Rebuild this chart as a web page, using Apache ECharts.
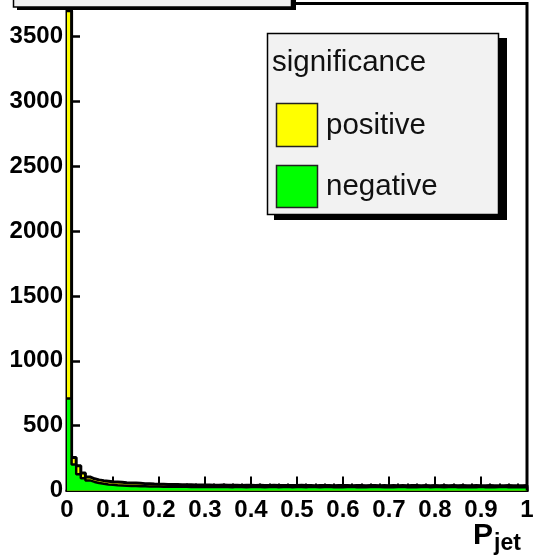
<!DOCTYPE html>
<html>
<head>
<meta charset="utf-8">
<script src="https://cdn.jsdelivr.net/npm/echarts@6/dist/echarts.min.js"></script>
<style>
html,body{margin:0;padding:0;background:#fff;}
#c{width:540px;height:557px;}
</style>
</head>
<body>
<div id="c"></div>
<script>
// Histogram: P_jet, 100 bins from 0 to 1
var binWidth = 0.01;
var xTickLabels = ['0','0.1','0.2','0.3','0.4','0.5','0.6','0.7','0.8','0.9','1'];
var yTickLabels = ['0','500','1000','1500','2000','2500','3000','3500'];
var legendTitle = 'significance';
var seriesNames = ['positive', 'negative'];

var positiveCounts = [
  3700, 255, 190, 135, 105, 90, 82, 76, 72, 68,
  66, 63, 60, 58, 57, 55, 53, 52, 50, 49,
  48, 47, 46, 46, 45, 44, 44, 43, 43, 42,
  42, 41, 41, 42, 40, 41, 40, 39, 40, 40,
  39, 40, 38, 39, 40, 38, 39, 38, 39, 38,
  40, 38, 39, 37, 38, 39, 38, 37, 38, 39,
  38, 37, 38, 38, 37, 39, 38, 37, 38, 37,
  38, 37, 38, 37, 39, 38, 37, 38, 37, 38,
  37, 38, 36, 38, 37, 38, 37, 36, 38, 37,
  36, 38, 37, 36, 37, 38, 36, 37, 36, 38
];
var negativeCounts = [
  710, 200, 125, 95, 78, 66, 58, 52, 47, 44,
  41, 39, 37, 35, 34, 33, 32, 31, 30, 30,
  29, 29, 28, 28, 29, 28, 27, 28, 27, 28,
  27, 28, 27, 28, 27, 26, 28, 27, 26, 27,
  28, 27, 26, 27, 28, 26, 27, 28, 26, 27,
  27, 26, 28, 27, 26, 27, 28, 26, 27, 26,
  27, 28, 26, 27, 26, 27, 28, 27, 26, 27,
  26, 27, 28, 26, 27, 26, 27, 28, 26, 27,
  27, 26, 27, 28, 26, 27, 26, 27, 26, 28,
  26, 27, 26, 27, 28, 26, 27, 26, 27, 26
];

function stepData(counts) {
  var d = [];
  for (var i = 0; i < counts.length; i++) d.push([i * binWidth, counts[i]]);
  d.push([counts.length * binWidth, 0]);
  return d;
}

var chart = echarts.init(document.getElementById('c'), null, {renderer: 'canvas'});
var gridL = 67, gridR = 13, gridT = 3.5, gridB = 66.5;
var FONT = 'Liberation Sans, Arial, sans-serif';
var axisFont = {fontFamily: FONT, fontWeight: 'bold', fontSize: 24, color: '#000'};

var option = {
  animation: false,
  backgroundColor: '#fff',
  grid: {left: gridL, right: gridR, top: gridT, bottom: gridB, show: true, borderColor: '#000', borderWidth: 3, backgroundColor: 'transparent'},
  xAxis: {
    type: 'value', min: 0, max: 1, interval: 0.1,
    axisLine: {show: true, onZero: false, lineStyle: {color: '#000', width: 3}},
    axisTick: {show: true, inside: true, length: 14, lineStyle: {color: '#000', width: 2}},
    minorTick: {show: true, splitNumber: 5, length: 7, lineStyle: {color: '#000', width: 2}},
    splitLine: {show: false},
    axisLabel: Object.assign({margin: 8, formatter: function (v) {
      var idx = Math.round(v * 10);
      return xTickLabels[idx] !== undefined ? xTickLabels[idx] : '';
    }}, axisFont)
  },
  yAxis: {
    type: 'value', min: 0, max: 3755, interval: 500,
    axisLine: {show: true, onZero: false, lineStyle: {color: '#000', width: 3}},
    axisTick: {show: true, inside: true, length: 13, lineStyle: {color: '#000', width: 2.5}},
    minorTick: {show: true, splitNumber: 5, length: 6, lineStyle: {color: '#000', width: 2}},
    splitLine: {show: false},
    axisLabel: Object.assign({margin: 4, showMaxLabel: false, formatter: function (v) {
      if (v % 500 !== 0) return '';
      var idx = v / 500;
      return yTickLabels[idx] !== undefined ? yTickLabels[idx] : '';
    }}, axisFont)
  },
  series: [
    {
      name: seriesNames[0], type: 'line', step: 'end', symbol: 'none',
      data: stepData(positiveCounts),
      lineStyle: {color: '#000', width: 3},
      areaStyle: {color: '#ffff00', opacity: 1},
      z: 2
    },
    {
      name: seriesNames[1], type: 'line', step: 'end', symbol: 'none',
      data: stepData(negativeCounts),
      lineStyle: {color: '#000', width: 2.5},
      areaStyle: {color: '#00ff00', opacity: 1},
      z: 3
    }
  ],
  graphic: [
    // cut-off title box at the top
    {type: 'rect', shape: {x: 17, y: -10, width: 279, height: 20}, style: {fill: '#000'}, z: 10},
    {type: 'rect', shape: {x: 13.5, y: -10, width: 278, height: 17}, style: {fill: '#f0f0f0', stroke: '#000', lineWidth: 1.5}, z: 11},
    // legend box with shadow
    {type: 'rect', shape: {x: 274, y: 38, width: 233, height: 182}, style: {fill: '#000'}, z: 20},
    {type: 'rect', shape: {x: 267.5, y: 33.5, width: 231, height: 181}, style: {fill: '#f2f2f2', stroke: '#000', lineWidth: 1.5}, z: 21},
    {type: 'text', style: {x: 272, y: 63, text: legendTitle, fontFamily: FONT, fontSize: 29.5, fill: '#111', verticalAlign: 'middle'}, z: 22},
    {type: 'rect', shape: {x: 276.5, y: 103.5, width: 41, height: 43}, style: {fill: '#ffff00', stroke: '#222', lineWidth: 1.5}, z: 22},
    {type: 'text', style: {x: 326, y: 126, text: seriesNames[0], fontFamily: FONT, fontSize: 29.5, fill: '#111', verticalAlign: 'middle'}, z: 22},
    {type: 'rect', shape: {x: 276.5, y: 165.5, width: 41, height: 42}, style: {fill: '#00ff00', stroke: '#222', lineWidth: 1.5}, z: 22},
    {type: 'text', style: {x: 326, y: 187, text: seriesNames[1], fontFamily: FONT, fontSize: 29.5, fill: '#111', verticalAlign: 'middle'}, z: 22},
    // axis title P_jet
    {type: 'text', style: {x: 473, y: 536, text: 'P', fontFamily: FONT, fontWeight: 'bold', fontSize: 30, fill: '#000', verticalAlign: 'middle'}, z: 22},
    {type: 'text', style: {x: 494, y: 544, text: 'jet', fontFamily: FONT, fontWeight: 'bold', fontSize: 23, fill: '#000', verticalAlign: 'middle'}, z: 22}
  ]
};
chart.setOption(option);
</script>
</body>
</html>
